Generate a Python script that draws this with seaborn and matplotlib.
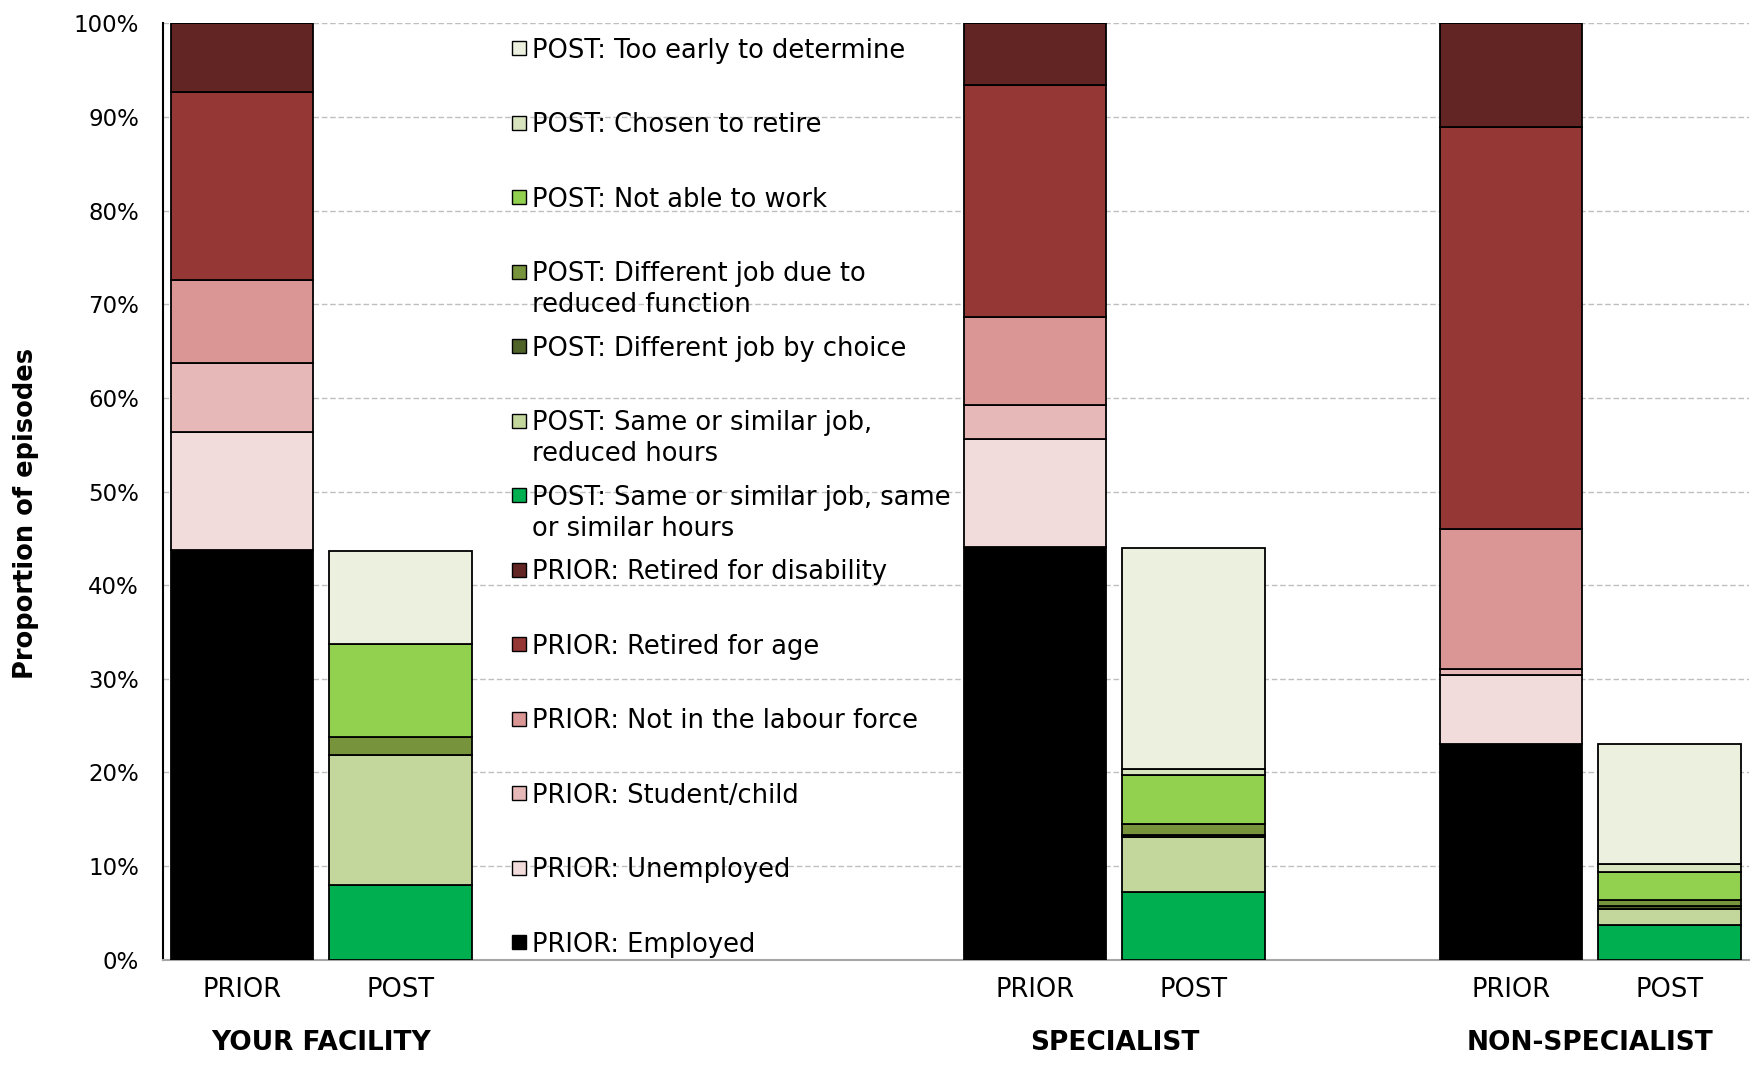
import numpy as np
import pandas as pd
import seaborn as sns
import matplotlib.pyplot as plt
from matplotlib.patches import Rectangle
from matplotlib.ticker import FuncFormatter

groups = ["YOUR FACILITY", "SPECIALIST", "NON-SPECIALIST"]
stages = ["PRIOR", "POST"]

# PRIOR status, % of episodes (YOUR FACILITY, SPECIALIST, NON-SPECIALIST)
prior_labels = ["PRIOR: Employed", "PRIOR: Unemployed", "PRIOR: Student/child",
                "PRIOR: Not in the labour force", "PRIOR: Retired for age",
                "PRIOR: Retired for disability"]
prior_colors = ["#000000", "#F2DCDB", "#E6B9B8", "#D99694", "#953735", "#632523"]
employed = [43.7, 44.1, 23.0]
unemployed = [12.7, 11.5, 7.4]
student_child = [7.3, 3.6, 0.6]
not_in_labour = [8.9, 9.4, 15.0]
retired_age = [20.1, 24.8, 42.9]
retired_disability = [7.3, 6.6, 11.1]
prior_values = [employed, unemployed, student_child, not_in_labour,
                retired_age, retired_disability]

# POST status, % of episodes
post_labels = ["POST: Same or similar job, same\nor similar hours",
               "POST: Same or similar job,\nreduced hours",
               "POST: Different job by choice",
               "POST: Different job due to\nreduced function",
               "POST: Not able to work", "POST: Chosen to retire",
               "POST: Too early to determine"]
post_colors = ["#00B050", "#C3D69B", "#4F6228", "#77933C", "#92D050",
               "#D7E4BD", "#EBF1DE"]
same_job_same_hours = [8.0, 7.2, 3.7]
same_job_reduced_hours = [13.9, 5.9, 1.7]
diff_job_choice = [0.0, 0.2, 0.3]
diff_job_reduced = [1.9, 1.2, 0.7]
not_able_to_work = [9.9, 5.2, 2.9]
chosen_to_retire = [0.0, 0.7, 0.9]
too_early = [9.9, 23.6, 12.8]
post_values = [same_job_same_hours, same_job_reduced_hours, diff_job_choice,
               diff_job_reduced, not_able_to_work, chosen_to_retire, too_early]

# slot of each bar on the x axis (legend sits in the empty slots 2-4)
group_pos = [0, 5, 8]
xpos = [p + i for p in group_pos for i in range(2)]

sns.set_theme(style="white")
plt.rcParams['font.family'] = ['DejaVu Sans']
for k in ['text.color', 'axes.labelcolor', 'xtick.color', 'ytick.color']:
    plt.rcParams[k] = 'black'

fig = plt.figure(figsize=(17.58, 10.67), dpi=100)
ax = fig.add_axes([0.0925, 0.1007, 0.9023, 0.8773])

segments = []
for lab, col, vals in zip(prior_labels, prior_colors, prior_values):
    segments.append((lab, col, [v for v in vals for v in (v, 0.0)]))
for lab, col, vals in zip(post_labels, post_colors, post_values):
    segments.append((lab, col, [v for v in vals for v in (0.0, v)]))

bottom = np.zeros(len(xpos))
for lab, col, vals in segments:
    df = pd.DataFrame({"x": xpos, "y": vals})
    sns.barplot(data=df, x="x", y="y", native_scale=True, width=0.9,
                color=col, saturation=1, edgecolor="black", linewidth=1.3,
                bottom=bottom, errorbar=None, ax=ax, zorder=3)
    bottom = bottom + np.array(vals)

ax.set_xlim(-0.5, 9.5)
ax.set_ylim(0, 100)
ax.set_yticks(range(0, 101, 10))
ax.yaxis.set_major_formatter(FuncFormatter(lambda v, p: f"{v:.0f}%"))
ax.set_xticks(xpos)
ax.set_xticklabels(stages * len(groups))
ax.tick_params(axis='x', length=0, pad=12.5, labelsize=18.5)
ax.tick_params(axis='y', length=0, pad=17, labelsize=16.5)
ax.set_xlabel("")
ax.set_ylabel("Proportion of episodes", fontsize=18.5, fontweight='bold')
ax.yaxis.set_label_coords(-0.078, 0.477)

ax.yaxis.grid(True, linestyle=(0, (4, 2)), color='#BFBFBF', linewidth=1.0)
ax.set_axisbelow(True)
for s in ['top', 'right']:
    ax.spines[s].set_visible(False)
ax.spines['left'].set_color('black')
ax.spines['left'].set_linewidth(1.5)
ax.spines['bottom'].set_color('#A6A6A6')
ax.spines['bottom'].set_linewidth(1.5)

for g, p in zip(groups, group_pos):
    ax.text(p + 0.5, -0.089, g, transform=ax.get_xaxis_transform(),
            ha='center', va='center', fontsize=19, fontweight='bold')

# legend: entries evenly spread, top entry = last stacked segment
W, H = 1758, 1067
leg = [(lab, col) for lab, col, _ in segments][::-1]
for i, (lab, col) in enumerate(leg):
    yc = 48.2 + 74.5 * i
    fig.add_artist(Rectangle((512 / W, 1 - (yc + 7) / H), 14 / W, 14 / H,
                             transform=fig.transFigure, facecolor=col,
                             edgecolor='black', linewidth=1.0))
    fig.text(532 / W, 1 - (yc - 10.5) / H, lab, ha='left', va='top',
             fontsize=18.5, linespacing=1.25)

fig.savefig("out.png", dpi=100)
